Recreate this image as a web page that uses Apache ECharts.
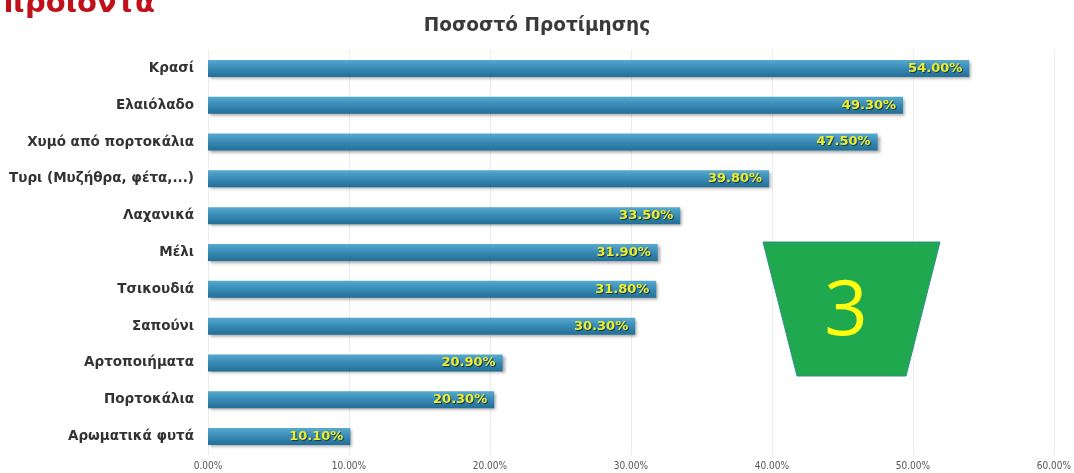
<!DOCTYPE html>
<html>
<head>
<meta charset="utf-8">
<script src="https://cdn.jsdelivr.net/npm/echarts@6/dist/echarts.min.js"></script>
<style>
  html, body { margin: 0; padding: 0; background: #ffffff; }
  #chart { width: 1074px; height: 473px; }
</style>
</head>
<body>
<div id="chart"></div>
<script>
// Products, top to bottom as listed
const categories = [
  'Κρασί',
  'Ελαιόλαδο',
  'Χυμό από πορτοκάλια',
  'Τυρι (Μυζήθρα, φέτα,...)',
  'Λαχανικά',
  'Μέλι',
  'Τσικουδιά',
  'Σαπούνι',
  'Αρτοποιήματα',
  'Πορτοκάλια',
  'Αρωματικά φυτά'
];
// Preference share, percent
const preference = [54.0, 49.3, 47.5, 39.8, 33.5, 31.9, 31.8, 30.3, 20.9, 20.3, 10.1];
const axisTicks = [0, 10, 20, 30, 40, 50, 60];

const chart = echarts.init(document.getElementById('chart'));

chart.setOption({
  backgroundColor: '#ffffff',
  animation: false,
  title: {
    text: 'Ποσοστό Προτίμησης',
    left: 'center',
    top: 12,
    textStyle: { fontFamily: 'DejaVu Sans', fontSize: 18.5, fontWeight: 'bold', color: '#3a3a3a' }
  },
  grid: { left: 208, right: 20, top: 50, bottom: 18, containLabel: false },
  xAxis: {
    type: 'value',
    min: axisTicks[0],
    max: axisTicks[axisTicks.length - 1],
    interval: 10,
    axisLine: { show: false },
    axisTick: { show: false },
    splitLine: { show: true, lineStyle: { color: '#ececec', width: 1 } },
    axisLabel: {
      margin: 6,
      fontFamily: 'DejaVu Sans Condensed',
      fontSize: 10,
      color: '#555',
      formatter: v => v.toFixed(2) + '%'
    }
  },
  yAxis: {
    type: 'category',
    inverse: true,
    data: categories,
    axisLine: { show: false },
    axisTick: { show: false },
    axisLabel: {
      margin: 14,
      fontFamily: 'DejaVu Sans',
      fontWeight: 'bold',
      fontSize: 13.5,
      color: '#333'
    }
  },
  series: [{
    type: 'bar',
    data: preference,
    barWidth: 17,
    itemStyle: {
      color: new echarts.graphic.LinearGradient(0, 0, 0, 1, [
        { offset: 0, color: '#58a9ce' },
        { offset: 0.45, color: '#3a8db8' },
        { offset: 1, color: '#226e96' }
      ]),
      shadowColor: 'rgba(0,0,0,0.35)',
      shadowBlur: 3,
      shadowOffsetX: 2,
      shadowOffsetY: 2
    },
    label: {
      show: true,
      position: 'insideRight',
      offset: [-2, 0],
      fontFamily: 'DejaVu Sans',
      fontWeight: 'bold',
      fontSize: 13,
      color: '#eded2c',
      textShadowColor: 'rgba(0,0,0,0.6)',
      textShadowBlur: 1,
      textShadowOffsetX: 1,
      textShadowOffsetY: 1,
      formatter: p => p.value.toFixed(2) + '%'
    }
  }],
  graphic: [
    {
      type: 'text',
      left: 2,
      top: -10,
      z: 100,
      style: {
        text: 'προϊόντα',
        font: 'bold 29px "DejaVu Sans"',
        fill: '#c0101a'
      }
    },
    {
      type: 'polygon',
      z: 100,
      shape: { points: [[763, 242], [940, 242], [906, 376], [797, 376]] },
      style: { fill: '#1fa84e', stroke: '#2e8f8a', lineWidth: 1 }
    },
    {
      type: 'text',
      z: 101,
      x: 846,
      y: 313,
      style: {
        text: '3',
        font: '76px "Open Sans"',
        fill: '#ffff10',
        align: 'center',
        verticalAlign: 'middle'
      }
    }
  ]
});
</script>
</body>
</html>
